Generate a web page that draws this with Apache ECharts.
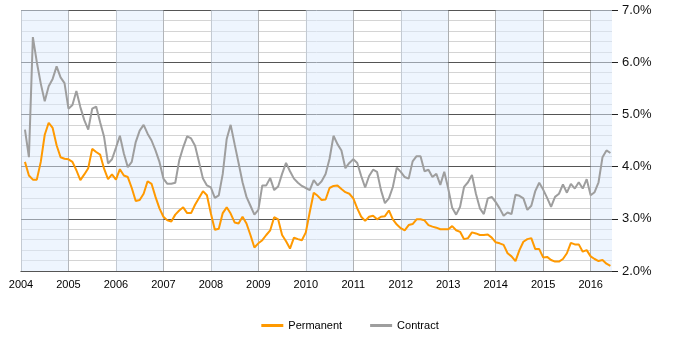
<!DOCTYPE html>
<html>
<head>
<meta charset="utf-8">
<script src="https://cdn.jsdelivr.net/npm/echarts@6/dist/echarts.min.js"></script>
<style>
  html, body { margin: 0; padding: 0; background: #fff; }
  #chart { width: 700px; height: 350px; }
</style>
</head>
<body>
<div id="chart"></div>
<script>
// Monthly rates (%), first value is February 2004
const startYear = 2004;
const startMonth = 2;

const permanent = [
  4.09, 3.83, 3.75, 3.75, 4.09, 4.61, 4.84, 4.74, 4.41, 4.18, 4.15,
  4.14, 4.09, 3.93, 3.74, 3.85, 3.97, 4.34, 4.28, 4.23, 3.96, 3.76, 3.85,
  3.75, 3.95, 3.83, 3.80, 3.59, 3.34, 3.36, 3.48, 3.72, 3.67, 3.42, 3.20,
  3.04, 2.97, 2.95, 3.08, 3.16, 3.22, 3.11, 3.11, 3.27, 3.40, 3.53, 3.45,
  3.10, 2.79, 2.81, 3.11, 3.22, 3.10, 2.93, 2.91, 3.04, 2.91, 2.69, 2.45,
  2.53, 2.59, 2.69, 2.78, 3.03, 2.99, 2.69, 2.57, 2.43, 2.64, 2.61, 2.59,
  2.74, 3.13, 3.50, 3.44, 3.36, 3.37, 3.59, 3.63, 3.64, 3.57, 3.51, 3.48,
  3.39, 3.20, 3.04, 2.96, 3.04, 3.06, 2.99, 3.04, 3.05, 3.16, 2.99, 2.89,
  2.82, 2.78, 2.88, 2.90, 2.99, 2.99, 2.97, 2.88, 2.85, 2.83, 2.80, 2.80,
  2.80, 2.86, 2.78, 2.75, 2.61, 2.63, 2.74, 2.72, 2.69, 2.69, 2.70, 2.64,
  2.55, 2.53, 2.50, 2.34, 2.28, 2.19, 2.40, 2.56, 2.61, 2.63, 2.42, 2.42,
  2.26, 2.27, 2.21, 2.18, 2.18, 2.23, 2.34, 2.54, 2.51, 2.51, 2.37, 2.40,
  2.28, 2.23, 2.19, 2.21, 2.14, 2.10
];

const contract = [
  4.71, 4.18, 6.48, 6.00, 5.59, 5.25, 5.54, 5.68, 5.92, 5.71, 5.60,
  5.11, 5.18, 5.45, 5.14, 4.89, 4.71, 5.11, 5.15, 4.85, 4.57, 4.06, 4.14,
  4.36, 4.59, 4.25, 3.99, 4.09, 4.47, 4.69, 4.80, 4.63, 4.50, 4.31, 4.09,
  3.77, 3.67, 3.67, 3.69, 4.12, 4.37, 4.58, 4.54, 4.40, 4.09, 3.77, 3.64,
  3.60, 3.40, 3.45, 3.86, 4.53, 4.80, 4.43, 4.07, 3.70, 3.42, 3.25, 3.08,
  3.17, 3.64, 3.64, 3.78, 3.55, 3.62, 3.86, 4.07, 3.91, 3.77, 3.69, 3.63,
  3.59, 3.55, 3.74, 3.64, 3.72, 3.86, 4.15, 4.59, 4.43, 4.31, 3.97, 4.07,
  4.14, 4.07, 3.82, 3.60, 3.82, 3.94, 3.90, 3.55, 3.30, 3.39, 3.61, 3.98,
  3.90, 3.80, 3.77, 4.10, 4.20, 4.20, 3.91, 3.94, 3.80, 3.86, 3.65, 3.90,
  3.58, 3.21, 3.08, 3.23, 3.61, 3.70, 3.84, 3.48, 3.20, 3.09, 3.39, 3.42,
  3.32, 3.20, 3.06, 3.12, 3.09, 3.46, 3.44, 3.39, 3.17, 3.25, 3.53, 3.69,
  3.56, 3.40, 3.23, 3.42, 3.48, 3.66, 3.50, 3.67, 3.58, 3.70, 3.58, 3.76,
  3.45, 3.51, 3.70, 4.18, 4.31, 4.26
];

const yearTicks = [2004, 2005, 2006, 2007, 2008, 2009, 2010, 2011, 2012, 2013, 2014, 2015, 2016];
const axisEnd = 2016.45;
const rateMin = 2;
const rateMax = 7;

// Place each monthly value at its fractional year on the x axis
function toPoints(values) {
  return values.map((v, i) => [startYear + (startMonth - 1 + i) / 12, v]);
}

// Shaded band over every other year, starting with the first
const yearBands = yearTicks
  .filter((y, i) => i % 2 === 0)
  .map(y => [{ xAxis: y }, { xAxis: Math.min(y + 1, axisEnd) }]);

// One colour per year line, plus a transparent one for the partial-year edge
const yearLineColors = yearTicks.map(() => '#a8a8a8').concat(['rgba(0,0,0,0)']);

const chart = echarts.init(document.getElementById('chart'), null, { renderer: 'canvas' });

chart.setOption({
  animation: false,
  backgroundColor: '#ffffff',
  grid: { left: 21, right: 88, top: 10, bottom: 79, containLabel: false },
  xAxis: {
    type: 'value',
    min: yearTicks[0],
    max: axisEnd,
    interval: 1,
    axisLine: { show: true, lineStyle: { color: '#222', width: 1 } },
    axisTick: { show: false },
    axisLabel: {
      color: '#000',
      fontSize: 11,
      fontFamily: 'Liberation Sans, Arial, sans-serif',
      margin: 8,
      showMaxLabel: false,
      formatter: v => (yearTicks.includes(v) ? String(v) : '')
    },
    splitLine: { show: true, showMaxLine: false, lineStyle: { color: yearLineColors, width: 1 } }
  },
  yAxis: [
    {
      // fine 0.2% grid
      type: 'value',
      position: 'right',
      min: rateMin,
      max: rateMax,
      interval: 0.2,
      axisLine: { show: false },
      axisTick: { show: false },
      axisLabel: { show: false },
      splitLine: { show: true, lineStyle: { color: '#d4d4d4', width: 1 } }
    },
    {
      // labelled 1% grid
      type: 'value',
      position: 'right',
      min: rateMin,
      max: rateMax,
      interval: 1,
      z: 1,
      axisLine: { show: false },
      axisTick: { show: true, length: 6, lineStyle: { color: '#222' } },
      axisLabel: {
        color: '#111',
        fontSize: 13,
        fontFamily: 'Liberation Sans, Arial, sans-serif',
        margin: 10,
        formatter: v => v.toFixed(1) + '%'
      },
      splitLine: { show: true, lineStyle: { color: '#555', width: 1 } }
    }
  ],
  legend: {
    bottom: 14,
    left: 'center',
    icon: 'rect',
    itemWidth: 22,
    itemHeight: 3,
    itemGap: 28,
    textStyle: { color: '#000', fontSize: 11, fontFamily: 'Liberation Sans, Arial, sans-serif' },
    data: ['Permanent', 'Contract']
  },
  series: [
    {
      name: 'years',
      type: 'line',
      data: [],
      silent: true,
      z: 1,
      markArea: {
        silent: true,
        itemStyle: { color: 'rgba(221, 235, 253, 0.5)' },
        data: yearBands
      }
    },
    {
      name: 'Permanent',
      type: 'line',
      yAxisIndex: 0,
      data: toPoints(permanent),
      showSymbol: false,
      symbol: 'none',
      lineStyle: { color: '#ff9900', width: 2 },
      itemStyle: { color: '#ff9900' },
      z: 3
    },
    {
      name: 'Contract',
      type: 'line',
      yAxisIndex: 0,
      data: toPoints(contract),
      showSymbol: false,
      symbol: 'none',
      lineStyle: { color: '#9e9e9e', width: 2 },
      itemStyle: { color: '#9e9e9e' },
      z: 2
    }
  ]
});
</script>
</body>
</html>
